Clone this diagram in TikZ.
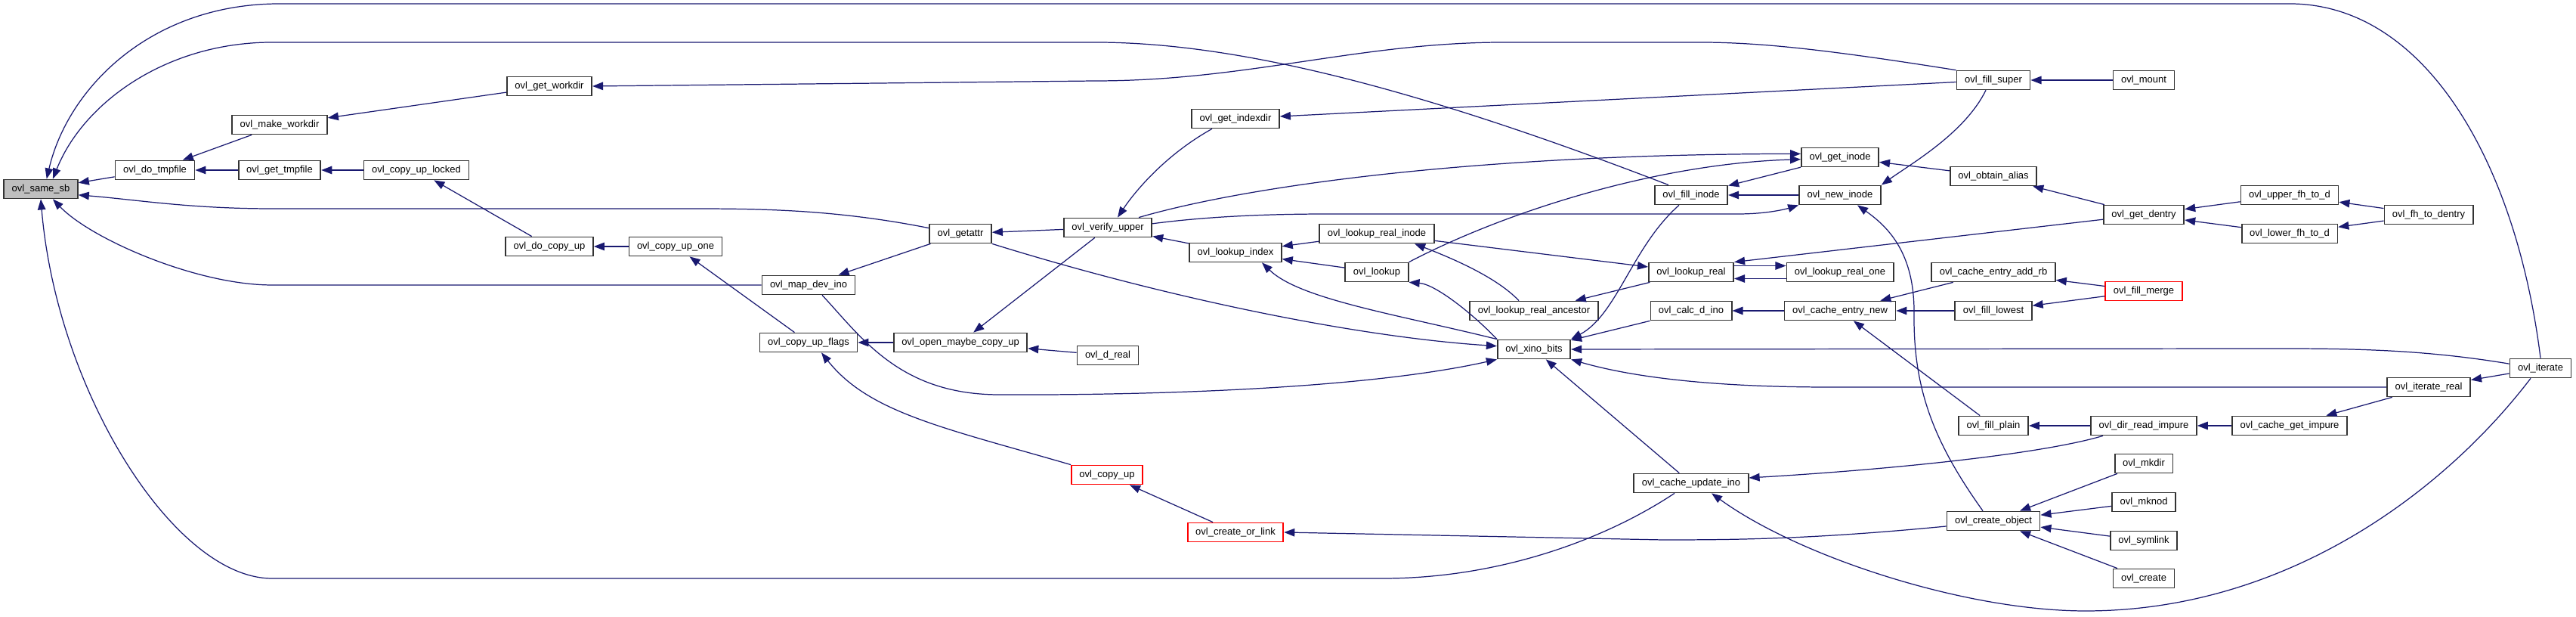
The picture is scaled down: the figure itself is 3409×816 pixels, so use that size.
\documentclass[tikz,border=0pt]{standalone}
\usepackage{fontspec}
\setmainfont{Liberation Sans}
\usetikzlibrary{arrows.meta}

\definecolor{edgeblue}{HTML}{191970}
\definecolor{rootgray}{HTML}{BFBFBF}

\begin{document}
\begin{tikzpicture}[x=0.01cm, y=0.01cm,
    fn/.style={draw=black!80, line width=0.5pt, fill=white, minimum height=0.25cm,
        inner xsep=3pt, inner ysep=0pt, font=\fontsize{3.7pt}{4.4pt}\selectfont},
    hot/.style={fn, draw=red},
    call/.style={draw=edgeblue, line width=0.35pt, -{Triangle[length=4pt,width=3pt]}}]
    \useasboundingbox (0,0) rectangle (3409,816);

    % functions
    \node[fn, fill=rootgray] (samesb) at (54,566) {ovl\_same\_sb};
    \node[fn] (dotmpfile) at (205,591) {ovl\_do\_tmpfile};
    \node[fn] (makeworkdir) at (370,651) {ovl\_make\_workdir};
    \node[fn] (gettmpfile) at (370,591) {ovl\_get\_tmpfile};
    \node[fn] (copyuplocked) at (551,591) {ovl\_copy\_up\_locked};
    \node[fn] (getworkdir) at (727,702) {ovl\_get\_workdir};
    \node[fn] (docopyup) at (727,490) {ovl\_do\_copy\_up};
    \node[fn] (copyupone) at (894,490) {ovl\_copy\_up\_one};
    \node[fn] (getattr) at (1271,507) {ovl\_getattr};
    \node[fn] (mapdevino) at (1070,439) {ovl\_map\_dev\_ino};
    \node[fn] (copyupflags) at (1070,363) {ovl\_copy\_up\_flags};
    \node[fn] (openmaybe) at (1271,363) {ovl\_open\_maybe\_copy\_up};
    \node[fn] (dreal) at (1466,346) {ovl\_d\_real};
    \node[hot] (copyup) at (1465,188) {ovl\_copy\_up};
    \node[hot] (createorlink) at (1635,112) {ovl\_create\_or\_link};
    \node[fn] (verifyupper) at (1466,515) {ovl\_verify\_upper};
    \node[fn] (getindexdir) at (1635,659) {ovl\_get\_indexdir};
    \node[fn] (lookupindex) at (1635,482) {ovl\_lookup\_index};
    \node[fn] (lookuprealinode) at (1822,507) {ovl\_lookup\_real\_inode};
    \node[fn] (lookup) at (1822,456) {ovl\_lookup};
    \node[fn] (lookuprealanc) at (2030,405) {ovl\_lookup\_real\_ancestor};
    \node[fn] (xinobits) at (2030,354) {ovl\_xino\_bits};
    \node[fn] (fillinode) at (2238,558) {ovl\_fill\_inode};
    \node[fn] (getinode) at (2435,608) {ovl\_get\_inode};
    \node[fn] (newinode) at (2435,558) {ovl\_new\_inode};
    \node[fn] (lookupreal) at (2238,456) {ovl\_lookup\_real};
    \node[fn] (lookuprealone) at (2435,456) {ovl\_lookup\_real\_one};
    \node[fn] (calcdino) at (2238,405) {ovl\_calc\_d\_ino};
    \node[fn] (cacheentrynew) at (2435,405) {ovl\_cache\_entry\_new};
    \node[fn] (cacheupdateino) at (2238,177) {ovl\_cache\_update\_ino};
    \node[fn] (fillsuper) at (2638,710) {ovl\_fill\_super};
    \node[fn] (mount) at (2837,710) {ovl\_mount};
    \node[fn] (obtainalias) at (2638,583) {ovl\_obtain\_alias};
    \node[fn] (getdentry) at (2837,532) {ovl\_get\_dentry};
    \node[fn] (upperfh) at (3030,558) {ovl\_upper\_fh\_to\_d};
    \node[fn] (lowerfh) at (3030,507) {ovl\_lower\_fh\_to\_d};
    \node[fn] (fhtodentry) at (3214,532) {ovl\_fh\_to\_dentry};
    \node[fn] (addrb) at (2638,456) {ovl\_cache\_entry\_add\_rb};
    \node[hot] (fillmerge) at (2837,431) {ovl\_fill\_merge};
    \node[fn] (filllowest) at (2638,405) {ovl\_fill\_lowest};
    \node[fn] (fillplain) at (2638,253) {ovl\_fill\_plain};
    \node[fn] (dirreadimpure) at (2837,253) {ovl\_dir\_read\_impure};
    \node[fn] (cachegetimpure) at (3030,253) {ovl\_cache\_get\_impure};
    \node[fn] (iteratereal) at (3214,304) {ovl\_iterate\_real};
    \node[fn] (iterate) at (3362,329) {ovl\_iterate};
    \node[fn] (createobject) at (2638,127) {ovl\_create\_object};
    \node[fn] (mkdir) at (2837,203) {ovl\_mkdir};
    \node[fn] (mknod) at (2837,152) {ovl\_mknod};
    \node[fn] (symlink) at (2837,101) {ovl\_symlink};
    \node[fn] (create) at (2837,51) {ovl\_create};

    % straight calls
    \draw[call] (dotmpfile) -- (samesb);
    \draw[call] (makeworkdir) -- (dotmpfile);
    \draw[call] (gettmpfile) -- (dotmpfile);
    \draw[call] (copyuplocked) -- (gettmpfile);
    \draw[call] (getworkdir) -- (makeworkdir);
    \draw[call] (docopyup) -- (copyuplocked);
    \draw[call] (copyupone) -- (docopyup);
    \draw[call] (copyupflags) -- (copyupone);
    \draw[call] (openmaybe) -- (copyupflags);
    \draw[call] (dreal) -- (openmaybe);
    \draw[call] (createorlink) -- (copyup);
    \draw[call] (verifyupper) -- (getattr);
    \draw[call] (getattr) -- (mapdevino);
    \draw[call] (verifyupper) -- (openmaybe);
    \draw[call] (lookupindex) -- (verifyupper);
    \draw[call] (lookuprealinode) -- (lookupindex);
    \draw[call] (lookup) -- (lookupindex);
    \draw[call] (lookuprealinode) -- (lookupreal);
    \draw[call] (lookupreal) -- (lookuprealanc);
    \draw[call] ([yshift=0.085cm]lookupreal.east) -- ([yshift=0.085cm]lookuprealone.west);
    \draw[call] ([yshift=-0.085cm]lookuprealone.west) -- ([yshift=-0.085cm]lookupreal.east);
    \draw[call] (getdentry) -- (lookupreal.north east);
    \draw[call] (getinode) -- (fillinode);
    \draw[call] (newinode) -- (fillinode);
    \draw[call] (obtainalias) -- (getinode);
    \draw[call] (calcdino) -- (xinobits);
    \draw[call] (cacheentrynew) -- (calcdino);
    \draw[call] (cacheupdateino) -- (xinobits);
    \draw[call] (fillplain) -- (cacheentrynew);
    \draw[call] (addrb) -- (cacheentrynew);
    \draw[call] (filllowest) -- (cacheentrynew);
    \draw[call] (fillmerge) -- (addrb);
    \draw[call] (fillmerge) -- (filllowest);
    \draw[call] (getdentry) -- (obtainalias);
    \draw[call] (upperfh) -- (getdentry);
    \draw[call] (lowerfh) -- (getdentry);
    \draw[call] (fhtodentry) -- (upperfh);
    \draw[call] (fhtodentry) -- (lowerfh);
    \draw[call] (mount) -- (fillsuper);
    \draw[call] (fillsuper) -- (getindexdir);
    \draw[call] (dirreadimpure) -- (fillplain);
    \draw[call] (cachegetimpure) -- (dirreadimpure);
    \draw[call] (iteratereal) -- (cachegetimpure);
    \draw[call] (iterate) -- (iteratereal);
    \draw[call] (mkdir) -- (createobject);
    \draw[call] (mknod) -- (createobject);
    \draw[call] (symlink) -- (createobject);
    \draw[call] (create) -- (createobject);

    % long calls back to ovl_same_sb
    \draw[call] (iterate.north) .. controls (3330,600) and (3210,811) .. (3030,811) -- (370,811)
        .. controls (200,811) and (90,700) .. (samesb.60);
    \draw[call] ([xshift=-0.3cm]fillinode.north) .. controls (1900,690) and (1650,760) .. (1450,760) -- (360,760)
        .. controls (220,760) and (110,680) .. (samesb.40);
    \draw[call] (getattr.170) .. controls (1100,540) and (1000,540) .. (900,540) -- (360,540)
        .. controls (250,540) and (180,552) .. (samesb.-9);
    \draw[call] (mapdevino.west) -- (360,439) .. controls (260,439) and (120,500) .. (samesb.-40);
    \draw[call] ([xshift=-0.22cm]cacheupdateino.south) .. controls (2120,100) and (1980,51) .. (1830,51) -- (360,51)
        .. controls (230,51) and (75,300) .. (samesb.south);

    % other curved calls
    \draw[call] (fillsuper.165) .. controls (2420,750) and (2330,760) .. (2250,760) -- (1990,760)
        .. controls (1800,760) and (1650,709) .. (1450,709) -- (getworkdir.east);
    \draw[call] ([xshift=-0.1cm]fillsuper.south) .. controls (2600,640) and (2530,600) .. (newinode.north east);
    \draw[call] ([xshift=-0.31cm]getindexdir.south) .. controls (1540,610) and (1500,560) .. ([xshift=0.13cm]verifyupper.north);
    \draw[call] ([xshift=0.41cm]verifyupper.north) .. controls (1650,570) and (1950,612) .. (getinode.175);
    \draw[call] (verifyupper.5) .. controls (1600,530) and (1680,533) .. (1760,533) -- (2300,533)
        .. controls (2340,533) and (2365,540) .. (newinode.south west);
    \draw[call] (lookup.north east) .. controls (2000,540) and (2200,600) .. (getinode.183);
    \draw[call] ([xshift=-0.14cm]createobject.north) .. controls (2560,230) and (2532,300) .. (2533,400)
        .. controls (2534,480) and (2500,515) .. ([xshift=0.23cm]newinode.south);
    \draw[call] ([xshift=-0.16cm]fillinode.south) .. controls (2160,490) and (2140,400) .. (xinobits.north east);
    \draw[call] (getattr.south east) .. controls (1550,420) and (1800,370) .. (xinobits.175);
    \draw[call] ([xshift=0.18cm]mapdevino.south) .. controls (1140,370) and (1190,295) .. (1320,294)
        .. controls (1500,293) and (1800,300) .. (xinobits.south west);
    \draw[call] (xinobits.north west) .. controls (1850,400) and (1720,420) .. ([xshift=0.35cm]lookupindex.south);
    \draw[call] (xinobits.north west) .. controls (1950,400) and (1900,440) .. (lookup.south east);
    \draw[call] (iterate.172) .. controls (3200,355) and (3100,355) .. (3000,355) -- (xinobits.east);
    \draw[call] (iteratereal.west) -- (2420,304) .. controls (2250,304) and (2150,320) .. (xinobits.south east);
    \draw[call] ([xshift=-0.13cm]iterate.south) .. controls (3230,160) and (3020,8) .. (2760,8)
        .. controls (2600,8) and (2380,80) .. ([xshift=0.27cm]cacheupdateino.south);
    \draw[call] ([xshift=-0.54cm]dirreadimpure.south) .. controls (2700,215) and (2500,195) .. ([yshift=0.07cm]cacheupdateino.east);
    \draw[call] ([yshift=-0.07cm]createobject.west) .. controls (2400,103) and (2300,102) .. (2200,102) -- (createorlink.east);
    \draw[call] (copyup.north west) .. controls (1250,250) and (1150,270) .. ([xshift=0.17cm]copyupflags.south);
    \draw[call] ([xshift=-0.2cm]lookuprealanc.north) .. controls (1980,450) and (1920,475) .. ([xshift=0.5cm]lookuprealinode.south);
\end{tikzpicture}
\end{document}
